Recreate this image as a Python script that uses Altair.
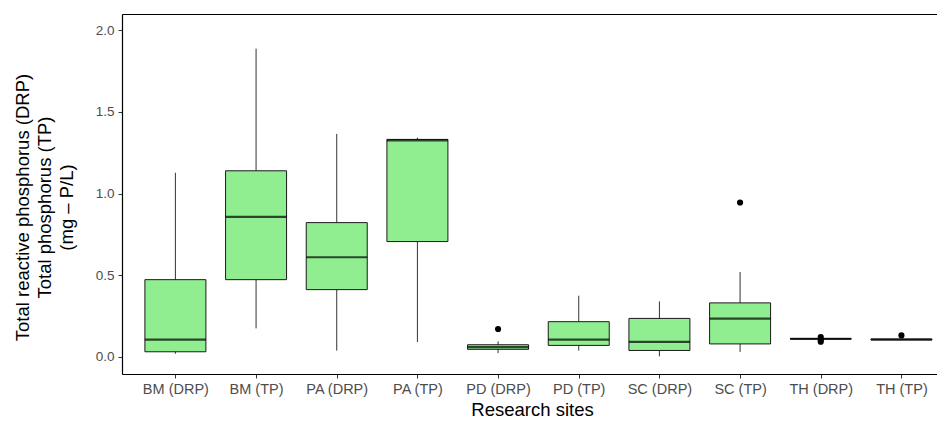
import altair as alt
import pandas as pd

sites = ["BM (DRP)", "BM (TP)", "PA (DRP)", "PA (TP)", "PD (DRP)",
         "PD (TP)", "SC (DRP)", "SC (TP)", "TH (DRP)", "TH (TP)"]
lower_whisker = [0.020, 0.175, 0.039, 0.092, 0.024, 0.039, 0.004, 0.031, 0.110, 0.104]
q1 = [0.032, 0.473, 0.412, 0.706, 0.047, 0.071, 0.040, 0.080, 0.110, 0.104]
median = [0.106, 0.857, 0.610, 1.325, 0.060, 0.106, 0.092, 0.235, 0.111, 0.107]
q3 = [0.473, 1.139, 0.822, 1.331, 0.075, 0.216, 0.236, 0.331, 0.112, 0.110]
upper_whisker = [1.127, 1.886, 1.365, 1.341, 0.096, 0.375, 0.340, 0.520, 0.112, 0.110]

outlier_sites = ["PD (DRP)", "SC (TP)", "TH (DRP)", "TH (DRP)", "TH (DRP)", "TH (TP)"]
outlier_values = [0.171, 0.945, 0.122, 0.104, 0.094, 0.132]

y_ticks = [0.0, 0.5, 1.0, 1.5, 2.0]

site_index = {s: i + 1 for i, s in enumerate(sites)}
box_df = pd.DataFrame({"site": sites, "idx": [site_index[s] for s in sites],
                       "lo": lower_whisker, "q1": q1, "med": median,
                       "q3": q3, "hi": upper_whisker})
out_df = pd.DataFrame({"site": outlier_sites,
                       "idx": [site_index[s] for s in outlier_sites],
                       "val": outlier_values})

FONT = "Liberation Sans"
label_expr = "[" + ", ".join("'" + s + "'" for s in sites) + "][datum.value - 1]"

x_scale = alt.Scale(domain=[0.4, 10.379], nice=False, zero=False)
y_scale = alt.Scale(domain=[-0.104, 2.098], nice=False, zero=False)

x_bottom = alt.X("idx:Q", scale=x_scale,
                 axis=alt.Axis(title="Research sites", orient="bottom", values=list(range(1, 11)),
                               labelExpr=label_expr, grid=False, labelAngle=0,
                               labelFont=FONT, labelFontSize=14.5, labelColor="#4d4d4d",
                               labelPadding=4, tickSize=4, tickColor="#333333",
                               domainColor="#000000", domainWidth=1.2,
                               titleFont=FONT, titleFontSize=18.5, titleFontWeight="normal",
                               titleColor="#000000", titleX=410, titleY=35,
                               titleBaseline="middle", titleAnchor="middle"))

y_enc = alt.Y("lo:Q", scale=y_scale,
              axis=alt.Axis(title=["Total reactive phosphorus (DRP)",
                                   "Total phosphorus (TP)", "(mg \u2013 P/L)"],
                            values=y_ticks, format=".1f", grid=False,
                            labelFont=FONT, labelFontSize=13.5, labelColor="#4d4d4d",
                            labelPadding=4, tickSize=4, tickColor="#333333",
                            domainColor="#000000", domainWidth=1.2,
                            titleFont=FONT, titleFontSize=18.5, titleFontWeight="normal",
                            titleColor="#000000", titleLineHeight=22,
                            titleAngle=270, titleBaseline="bottom", titleAlign="center",
                            titleX=-90, titleY=193))

whiskers = alt.Chart(box_df).mark_rule(color="#333333", strokeWidth=1).encode(
    x=x_bottom, y=y_enc, y2="hi:Q")

boxes = alt.Chart(box_df).mark_bar(size=61, fill="#90EE90", stroke="#1a1a1a",
                                   strokeWidth=1).encode(
    x=alt.X("idx:Q", scale=x_scale, axis=None),
    y=alt.Y("q1:Q", scale=y_scale), y2="q3:Q")

medians = alt.Chart(box_df).mark_tick(size=61, thickness=2.2, color="#000000",
                                      orient="horizontal").encode(
    x=alt.X("idx:Q", scale=x_scale,
            axis=alt.Axis(orient="top", labels=False, ticks=False, title=None, grid=False,
                          domainColor="#000000", domainWidth=1.2)),
    y=alt.Y("med:Q", scale=y_scale))

outliers = alt.Chart(out_df).mark_circle(size=38, color="#000000", opacity=1).encode(
    x=alt.X("idx:Q", scale=x_scale, axis=None),
    y=alt.Y("val:Q", scale=y_scale))

chart = alt.layer(whiskers, boxes, medians, outliers).resolve_axis(
    x="independent").properties(
    width=815, height=360,
    autosize=alt.AutoSizeParams(type="none"),
    padding={"left": 114, "top": 6, "right": 0, "bottom": 44},
).configure_view(stroke=None).configure(background="#ffffff")

chart.save("out.html", embed_options={"renderer": "svg", "actions": False})
